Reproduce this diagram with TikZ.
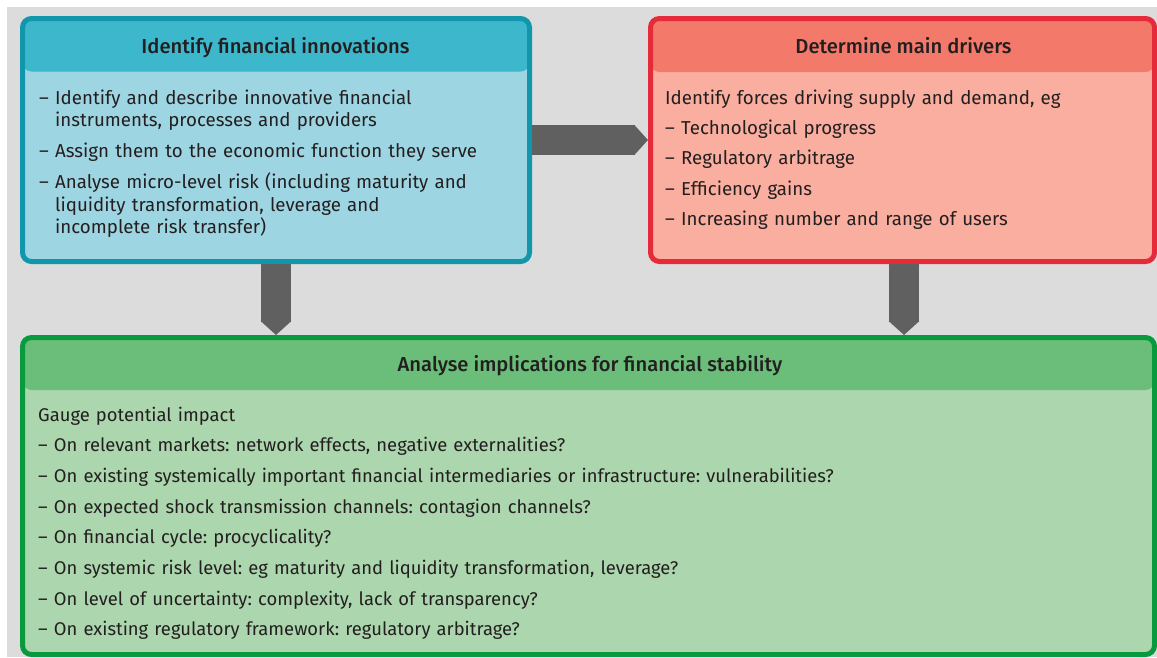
\documentclass[tikz,border=0pt]{standalone}
\usepackage{fontspec}
\setmainfont{Fira Sans}[BoldFont={Fira Sans Medium}]
\usetikzlibrary{arrows.meta}
\definecolor{bggray}{HTML}{DCDCDC}
\definecolor{blueborder}{HTML}{1296AC}
\definecolor{blueheader}{HTML}{3DB7CB}
\definecolor{bluebody}{HTML}{9ED5E2}
\definecolor{redborder}{HTML}{E52A3A}
\definecolor{redheader}{HTML}{F3796B}
\definecolor{redbody}{HTML}{F9AE9F}
\definecolor{greenborder}{HTML}{0A9A3E}
\definecolor{greenheader}{HTML}{6BBE79}
\definecolor{greenbody}{HTML}{ACD6AD}
\definecolor{arrowgray}{HTML}{606060}
\definecolor{textdark}{HTML}{231F20}
\frenchspacing
\begin{document}
\begin{tikzpicture}[x=1pt,y=-1pt,
  box/.style={draw, line width=5pt, rounded corners=9pt, inner sep=0pt},
  header/.style 2 args={path picture={\fill[#1] (path picture bounding box.north west) rectangle ([yshift=-#2]path picture bounding box.north east);}},
  hdr/.style={anchor=base, inner sep=0pt, text=textdark, font=\fontsize{20.2}{23}\selectfont\bfseries},
  bodytext/.style={anchor=base west, inner sep=0pt, text=textdark, align=left, text width=#1},
  blockarrow/.style={draw=arrowgray, line width=30pt, -{Triangle[length=14pt,width=30pt]}}
]
\useasboundingbox (0,0) rectangle (1157,657);
\fill[bggray] (7,7) rectangle (1157,657);

\node[box, draw=blueborder, fill=bluebody, header={blueheader}{53pt},
  minimum width=507pt, minimum height=243pt] (blue) at (276,140) {};
\node[box, draw=redborder, fill=redbody, header={redheader}{53.5pt},
  minimum width=504pt, minimum height=243pt] (red) at (902.5,140) {};
\node[box, draw=greenborder, fill=greenbody, header={greenheader}{52.5pt},
  minimum width=1132pt, minimum height=317pt] (green) at (588.5,496) {};

\node[hdr] (bluehd) at (275.5,53) {Identify financial innovations};
\node[hdr] (redhd) at (903.5,53) {Determine main drivers};
\node[hdr] (greenhd) at (590,371) {Analyse implications for financial stability};

\node[bodytext=480pt, font=\fontsize{18.7}{22.5}\selectfont] (bluebd) at (39,104)
 {– Identify and describe innovative financial\\
  \hphantom{– }instruments, processes and providers\\[8.5pt]
  – Assign them to the economic function they serve\\[8.5pt]
  – Analyse micro-level risk (including maturity and\\
  \hphantom{– }liquidity transformation, leverage and\\
  \hphantom{– }incomplete risk transfer)};

\node[bodytext=480pt, font=\fontsize{18.7}{30.4}\selectfont] (redbd) at (665,104)
 {Identify forces driving supply and demand, eg\\
  – Technological progress\\
  – Regulatory arbitrage\\
  – Efficiency gains\\
  – Increasing number and range of users};

\node[bodytext=1100pt, font=\fontsize{18.4}{30.7}\selectfont] (greenbd) at (38,421)
 {Gauge potential impact\\
  – On relevant markets: network effects, negative externalities?\\
  – On existing systemically important financial intermediaries or infrastructure: vulnerabilities?\\
  – On expected shock transmission channels: contagion channels?\\
  – On financial cycle: procyclicality?\\
  – On systemic risk level: eg maturity and liquidity transformation, leverage?\\
  – On level of uncertainty: complexity, lack of transparency?\\
  – On existing regulatory framework: regulatory arbitrage?};

\draw[blockarrow] (blue.east) -- (red.west);
\draw[blockarrow] (blue.south) -- (blue.south |- green.north);
\draw[blockarrow] ([xshift=1.5pt]red.south) -- ([xshift=1.5pt]red.south |- green.north);
\end{tikzpicture}
\end{document}
